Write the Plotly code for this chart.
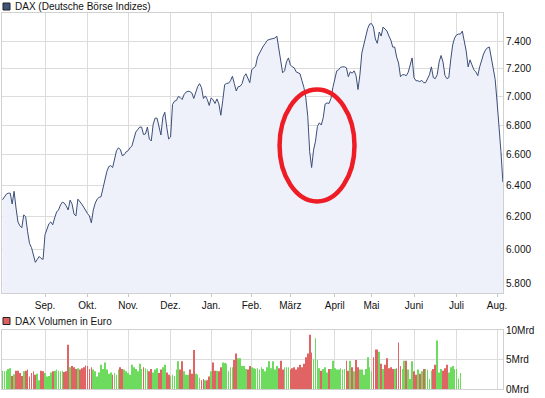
import math
import pandas as pd
import plotly.graph_objects as go

W, H = 545, 398

# ---------------- data ----------------
HOLIDAYS = ['2010-12-24', '2010-12-31', '2011-04-22', '2011-04-25']
dates = [d.strftime('%Y-%m-%d') for d in pd.bdate_range('2010-08-02', '2011-08-04')
         if d.strftime('%Y-%m-%d') not in HOLIDAYS]

dax_close = [
    6307, 6323, 6343, 6349, 6349, 6280, 6361, 6255, 6168, 6144,
    6132, 6212, 6199, 6107, 6035, 6011, 5969, 5922, 5940, 5957,
    5945, 5940, 6089, 6119, 6156, 6168, 6150, 6193, 6230, 6243,
    6274, 6292, 6286, 6267, 6243, 6305, 6280, 6218, 6205, 6311,
    6298, 6280, 6261, 6236, 6220,
    6205, 6162, 6243, 6286, 6311, 6323, 6326, 6386, 6450, 6489,
    6521, 6528, 6515, 6567, 6626, 6645, 6635, 6593, 6600, 6619,
    6626, 6645, 6659, 6705, 6752, 6769, 6786, 6786, 6735, 6739,
    6786, 6705, 6692, 6806, 6847, 6847, 6792, 6732, 6854, 6888,
    6786, 6705, 6718, 6942, 6965, 6970, 6998, 6991, 6977, 7012,
    7029, 7035, 7033, 7023, 6984, 7033, 7068, 7089, 7061, 6984,
    7002, 6977, 6935, 6988, 6974, 6949, 6981, 6946, 6867, 6970,
    7082, 7091, 7092, 7110, 7142, 7089, 7037, 7068, 7070, 7089,
    7139, 7160, 7128, 7096, 7189, 7203, 7214, 7282, 7312, 7337,
    7363, 7381, 7404, 7411, 7415, 7418, 7422, 7437, 7355, 7246,
    7167, 7181, 7246, 7275, 7224, 7210, 7203, 7174, 7169, 7160,
    7110, 7063, 6990, 6860, 6620, 6515, 6630, 6690, 6790, 6815,
    6800, 6850, 6945, 6953,
    6949, 6984, 7061, 7117, 7181, 7189, 7207, 7210, 7210, 7203,
    7139, 7174, 7164, 7181, 7146, 7047, 7153, 7312, 7370, 7422,
    7493, 7527, 7531, 7505, 7415, 7383, 7467, 7437, 7505, 7490,
    7474, 7437, 7407, 7355, 7355, 7282, 7238, 7139, 7153, 7153,
    7146, 7171, 7231, 7275, 7132, 7110, 7110, 7103, 7113, 7096,
    7096, 7125, 7153, 7210, 7132, 7125, 7153, 7246, 7293, 7246,
    7149, 7125, 7132, 7261, 7370, 7422, 7445, 7452, 7452, 7474,
    7407, 7326, 7210, 7261, 7224, 7189, 7174, 7146, 7210, 7261,
    7304,
    7333, 7350, 7355, 7270, 7175, 7120, 6960, 6800, 6620, 6420,
]

volume_mrd = [
    3.1, 3.0, 3.1, 3.4, 3.5, 2.2, 2.5, 3.1, 3.1, 2.7,
    2.2, 3.0, 3.1, 3.3, 2.1, 2.7, 3.0, 2.4, 2.6, 1.5,
    3.1, 3.0, 2.7, 2.1, 2.2, 2.8, 3.0, 3.1, 3.3, 3.1,
    3.0, 3.1, 2.9, 3.0, 7.5, 3.7, 3.9, 3.7, 3.4, 3.5,
    3.3, 3.5, 3.7, 4.0, 3.9, 3.4, 3.7, 3.3, 3.0, 2.1,
    2.8, 4.1, 3.4, 4.5, 3.3, 2.6, 2.8, 2.4, 2.7, 2.4,
    3.3, 3.7, 3.4, 3.3, 3.0, 2.7, 2.4, 4.1, 3.7, 3.4,
    3.0, 4.3, 3.4, 3.7, 3.5, 3.3, 3.0, 3.4, 2.8, 3.3,
    3.5, 2.7, 3.3, 3.7, 4.1, 2.8, 2.4, 2.1, 2.4, 2.2,
    3.3, 4.7, 3.3, 4.7, 3.0, 2.4, 2.4, 3.3, 2.6, 6.6,
    2.6, 2.4, 1.9, 1.5, 1.7, 1.5, 1.5, 2.1, 3.0, 4.5,
    3.1, 3.1, 3.0, 3.7, 4.5, 4.4, 4.3, 3.0, 3.7, 3.7,
    4.9, 6.0, 5.2, 5.2, 3.9, 3.9, 3.4, 3.3, 3.9, 3.7,
    3.5, 3.4, 3.5, 3.3, 3.7, 3.4, 3.0, 3.7, 4.7, 3.5,
    4.7, 3.3, 3.9, 3.5, 4.8, 3.3, 3.7, 3.7, 3.7, 3.3,
    3.5, 3.7, 3.3, 3.7, 4.1, 3.7, 4.3, 5.4, 6.0, 9.2,
    6.2, 5.0, 8.6, 4.9, 3.5, 3.1, 3.4, 3.7, 2.8, 3.4,
    3.4, 4.8, 3.5, 3.3, 3.3, 3.5, 3.3, 3.4, 4.8, 3.1,
    4.8, 3.7, 3.0, 4.9, 3.7, 3.3, 3.3, 2.4, 3.4, 5.4,
    3.7, 3.0, 5.4, 6.7, 6.7, 6.3, 4.3, 3.4, 4.1, 5.2,
    3.5, 3.7, 3.4, 3.4, 3.5, 7.9, 3.9, 3.4, 4.8, 4.8,
    3.3, 1.7, 4.7, 3.0, 2.4, 3.3, 2.6, 3.0, 3.4, 3.4,
    3.3, 1.7, 3.1, 3.4, 4.1, 8.2, 2.8, 3.4, 3.1, 3.5,
    4.1, 2.8, 3.7, 3.9, 3.4, 3.4, 1.8, 2.7,
]

tick_months = ['2010-09', '2010-10', '2010-11', '2010-12', '2011-01', '2011-02',
               '2011-03', '2011-04', '2011-05', '2011-06', '2011-07', '2011-08']
month_labels = ['Sep.', 'Okt.', 'Nov.', 'Dez.', 'Jan.', 'Feb.',
                'März', 'April', 'Mai', 'Juni', 'Juli', 'Aug.']
price_ticks = [5800, 6000, 6200, 6400, 6600, 6800, 7000, 7200, 7400]
price_tick_text = ['5.800', '6.000', '6.200', '6.400', '6.600', '6.800', '7.000', '7.200', '7.400']
volume_ticks = [0, 5, 10]
volume_tick_text = ['0Mrd', '5Mrd', '10Mrd']

# highlighted period (Japan crash, March 2011)
highlight_x = (143.4, 182.2)
highlight_y = (6296, 7047)

# ---------------- derived ----------------
first_of_month = {}
for d in dates:
    first_of_month.setdefault(d[:7], d)
tick_dates = [first_of_month[m] for m in tick_months]

UP, DOWN = '#6ddc5e', '#e06464'
vol_dates = dates[:len(volume_mrd)]
vol_colors = [UP if (i == 0 or dax_close[i] >= dax_close[i - 1]) else DOWN
              for i in range(len(volume_mrd))]

# ---------------- style ----------------
FONT = 'Liberation Sans, Arial, sans-serif'
GRID = '#dcdcdc'
FRAME = '#d0d0d0'
LINE = '#3c4e78'
FILL = '#eef1f9'
TXT = '#111111'

def px(x):
    return x / W

def py(y):
    return 1 - y / H

fig = go.Figure()
fig.add_trace(go.Scatter(x=dates, y=dax_close, mode='lines',
                         line=dict(color=LINE, width=1), fill='tozeroy',
                         fillcolor=FILL, xaxis='x', yaxis='y',
                         showlegend=False, hoverinfo='skip'))
fig.add_trace(go.Bar(x=vol_dates, y=volume_mrd, marker=dict(color=vol_colors, line=dict(width=0)),
                     xaxis='x2', yaxis='y2', showlegend=False, hoverinfo='skip'))

xrange = [-0.26, 259.06]
common_x = dict(type='category', range=xrange, tickmode='array', tickvals=tick_dates,
                showgrid=True, gridcolor=GRID, gridwidth=1, showline=True, mirror=True,
                linecolor=FRAME, linewidth=1, zeroline=False, fixedrange=True,
                automargin=False)
common_y = dict(side='right', tickmode='array', showgrid=True, gridcolor=GRID, gridwidth=1,
                showline=True, mirror=True, linecolor=FRAME, linewidth=1, ticks='',
                tickfont=dict(family=FONT, size=10, color=TXT), zeroline=False,
                fixedrange=True, automargin=False)

fig.update_layout(
    template='none',
    width=W, height=H,
    margin=dict(l=0, r=0, t=0, b=0, pad=0, autoexpand=False),
    paper_bgcolor='white', plot_bgcolor='white',
    font=dict(family=FONT, size=10, color=TXT),
    bargap=0.62,
    showlegend=False,
    xaxis=dict(**common_x, domain=[px(2), px(503)], anchor='y',
               ticktext=month_labels, ticks='outside', ticklen=3, tickcolor='#c8c8c8',
               tickwidth=1, tickfont=dict(family=FONT, size=10, color=TXT)),
    yaxis=dict(**common_y, type='log', domain=[py(293), py(13)], anchor='x',
               range=[math.log10(5742), math.log10(7611.6)],
               tickvals=price_ticks, ticktext=price_tick_text),
    xaxis2=dict(**common_x, domain=[px(2), px(503)], anchor='y2', matches='x',
                showticklabels=False, ticks=''),
    yaxis2=dict(**common_y, domain=[py(389), py(330)], anchor='x2', range=[0, 10],
                tickvals=volume_ticks, ticktext=volume_tick_text),
)

# legend headers
headers = [('DAX (Deutsche Börse Indizes)', 6.5, '#3f5478'),
           ('DAX Volumen in Euro', 321, '#e06060')]
for text, yc, col in headers:
    fig.add_shape(type='rect', xref='paper', yref='paper',
                  x0=px(3), x1=px(10), y0=py(yc + 3.5), y1=py(yc - 3.5),
                  fillcolor=col, line=dict(color='#222222', width=1))
    fig.add_annotation(x=px(13), y=py(yc), xref='paper', yref='paper', text=text,
                       showarrow=False, xanchor='left', yanchor='middle',
                       font=dict(family=FONT, size=10, color=TXT))

# red highlight ellipse
fig.add_shape(type='circle', xref='x', yref='y',
              x0=highlight_x[0], x1=highlight_x[1], y0=highlight_y[0], y1=highlight_y[1],
              line=dict(color='#ee1c24', width=4.5))

fig.write_html('out.html', config={'displayModeBar': False},
               post_script="document.body.style.margin='0px';document.body.style.overflow='hidden';")
